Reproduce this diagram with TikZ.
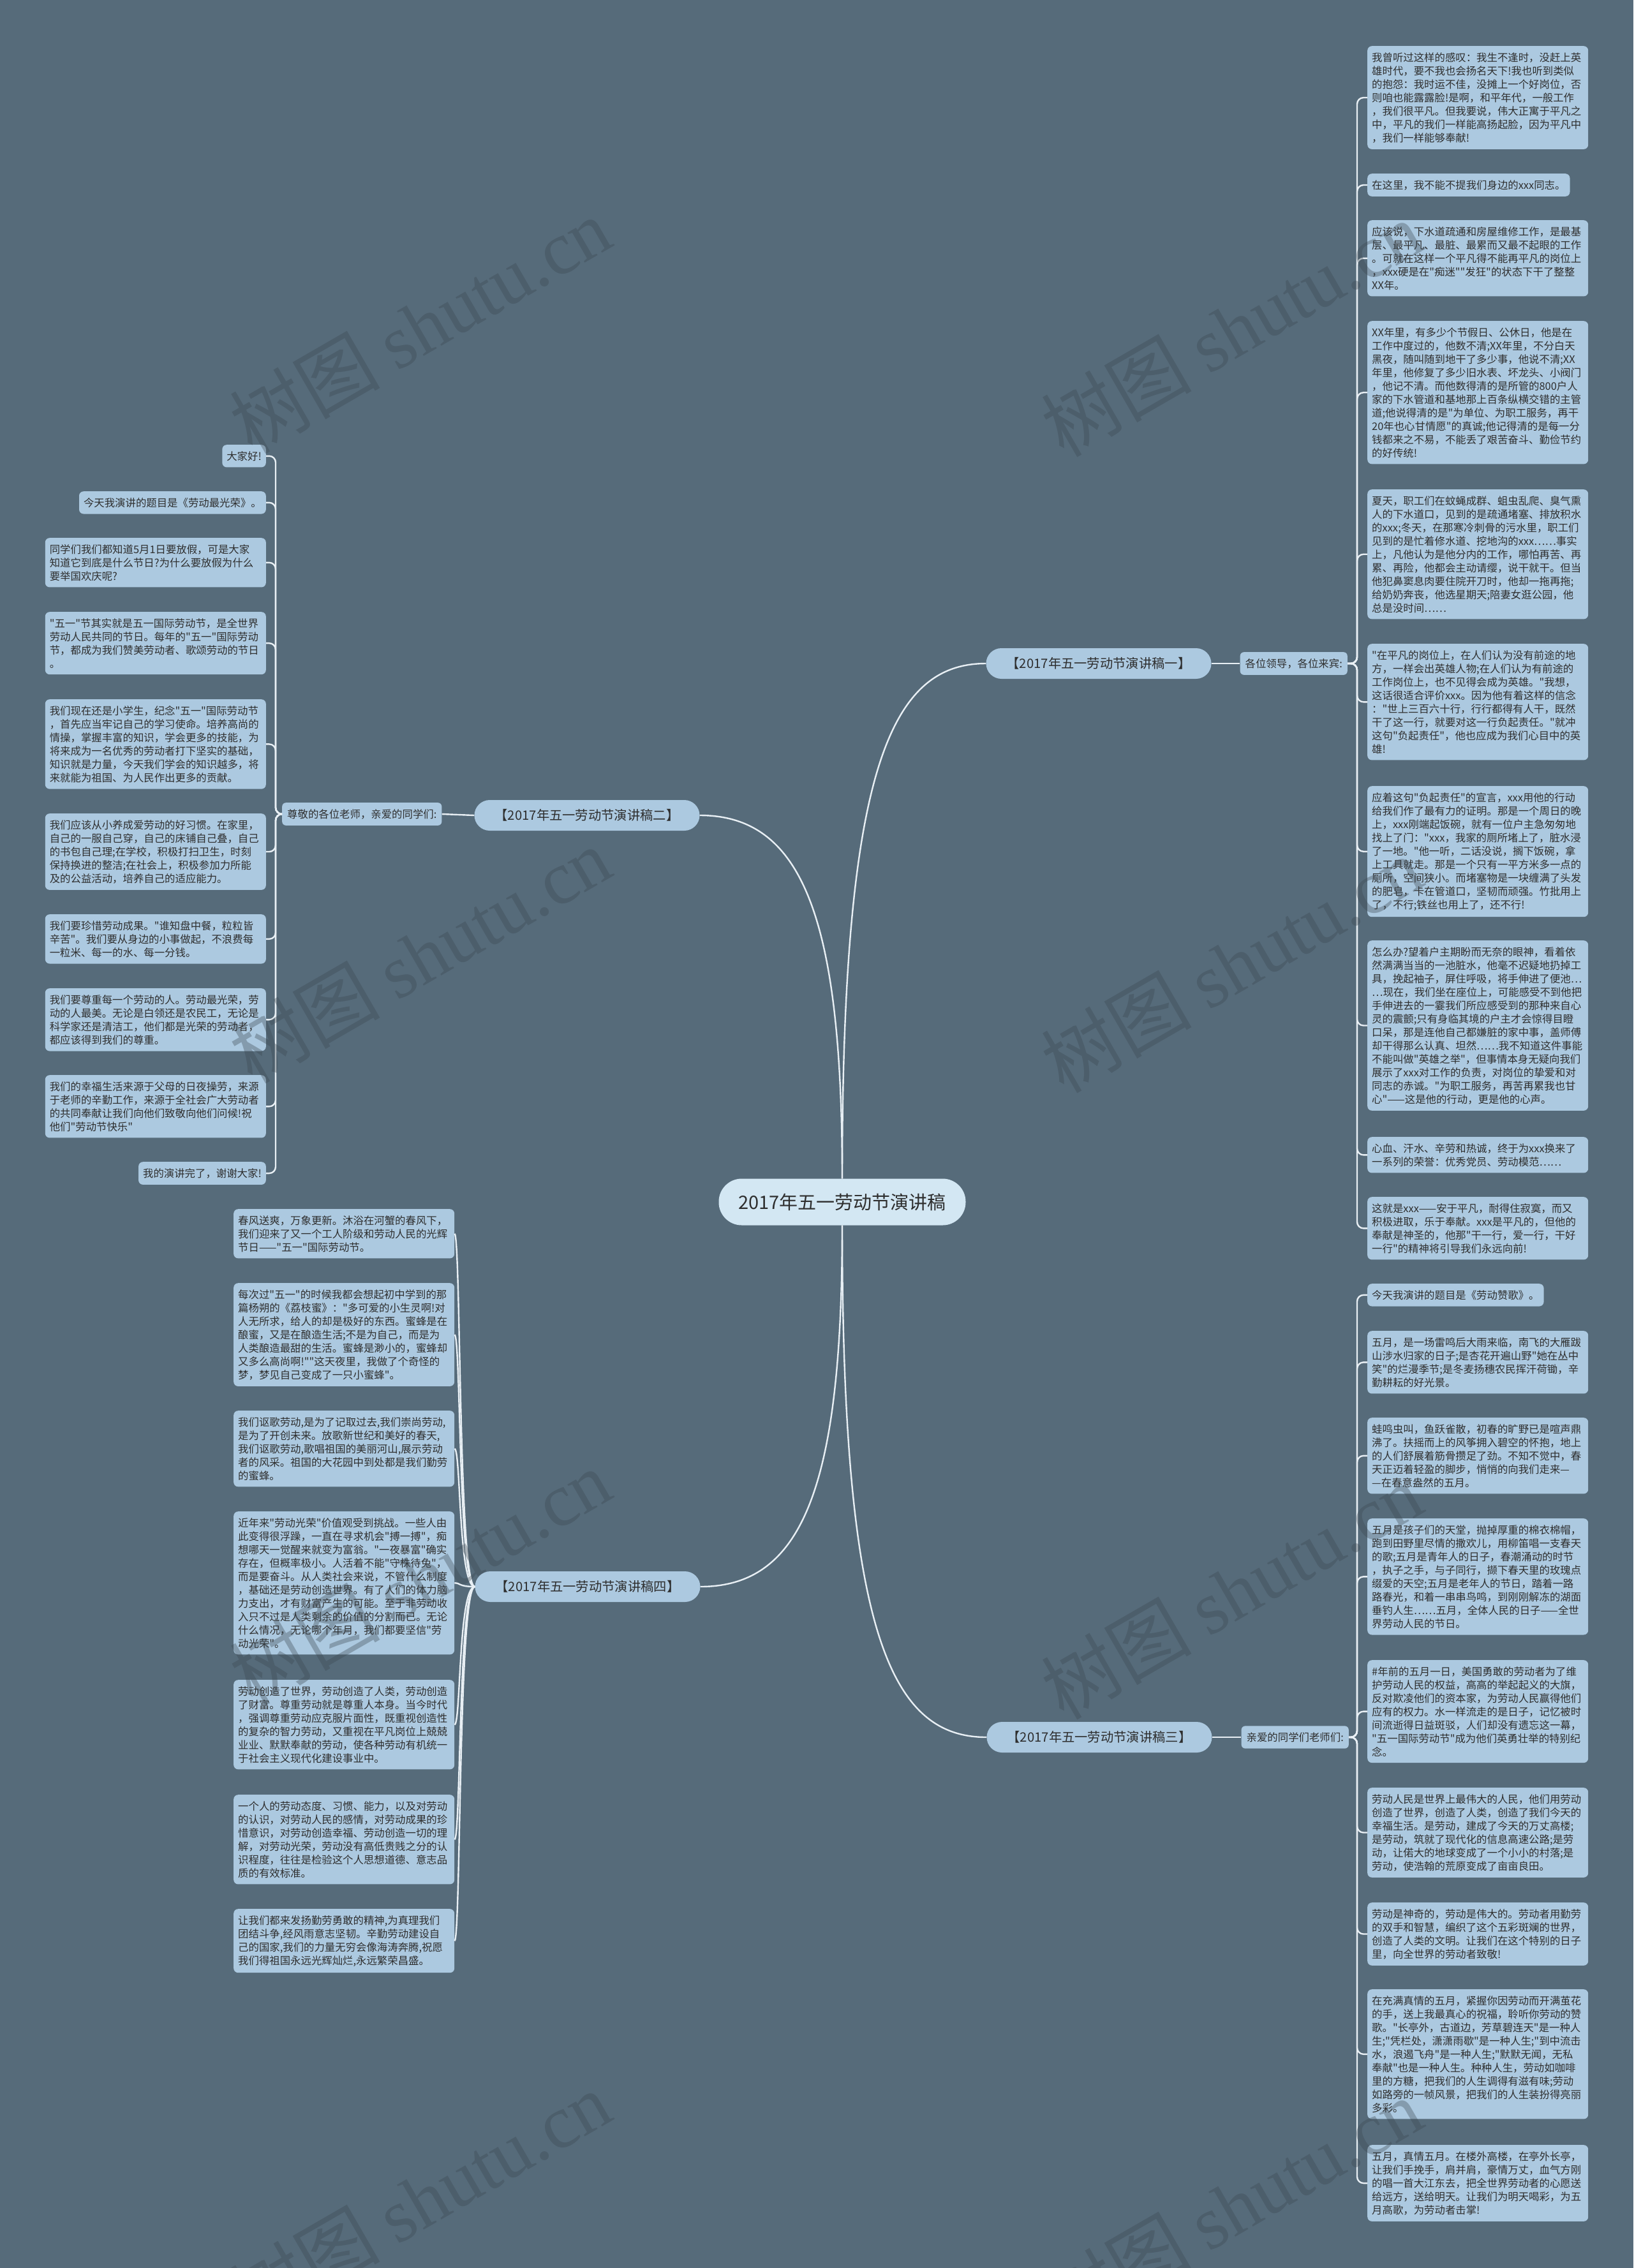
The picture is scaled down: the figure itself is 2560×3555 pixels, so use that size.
\documentclass[tikz,border=0pt]{standalone}
\usepackage{fontspec}
\setmainfont{Noto Sans CJK SC}[Ligatures=TeXOff]
\newfontfamily\wmlatin{Liberation Serif}
\definecolor{bgc}{HTML}{566B7A}
\definecolor{leafc}{HTML}{ACC9E0}
\definecolor{rootc}{HTML}{D3E7F3}
\definecolor{linec}{HTML}{E8EFF4}
\definecolor{txtc}{HTML}{2E2E2E}
\definecolor{wmc}{HTML}{3A4650}
\newcommand\leaffont{\fontsize{16.4}{21}\selectfont}
\begin{document}
\begin{tikzpicture}[x=1pt,y=-1pt,
  leaf/.style={fill=leafc, rounded corners=7pt, inner xsep=7pt, inner ysep=10pt, font=\leaffont, text=txtc, align=left},
  wide/.style={text width=332pt},
  branch/.style={fill=leafc, rounded corners=24pt, minimum width=353pt, minimum height=48pt, inner sep=0pt, font=\fontsize{20.3}{24}\selectfont, text=txtc},
  root/.style={fill=rootc, rounded corners=36pt, minimum width=387pt, minimum height=73pt, inner sep=0pt, font=\fontsize{29}{34}\selectfont, text=txtc},
  lvltwo/.style={fill=leafc, rounded corners=6pt, inner xsep=8pt, inner ysep=10pt, font=\leaffont, text=txtc},
  conn/.style={draw=linec, line width=2.4pt, rounded corners=10pt},
  wm/.style={text=wmc, opacity=0.35, rotate=30, font=\fontsize{118}{118}\selectfont}
]
\fill[bgc] (0,0) rectangle (2560,3555);
\useasboundingbox (0,0) rectangle (2560,3555);

% root and branches
\node[root] (root) at (1320,1884) {2017年五一劳动节演讲稿};
\node[branch] (b1) at (1722,1040) {【2017年五一劳动节演讲稿一】};
\node[branch] (b2) at (920,1278) {【2017年五一劳动节演讲稿二】};
\node[branch] (b3) at (1723,2723) {【2017年五一劳动节演讲稿三】};
\node[branch] (b4) at (921,2487) {【2017年五一劳动节演讲稿四】};

\node[lvltwo, anchor=east] (l1) at (2112,1040) {各位领导，各位来宾:};
\node[lvltwo, anchor=east] (l3) at (2114,2723) {亲爱的同学们老师们:};
\node[lvltwo, anchor=west] (l2) at (442,1276) {尊敬的各位老师，亲爱的同学们:};

% right column, branch one
\node[leaf,wide,anchor=north west] (r1) at (2143,72) {我曾听过这样的感叹：我生不逢时，没赶上英\\雄时代，要不我也会扬名天下!我也听到类似\\的抱怨：我时运不佳，没摊上一个好岗位，否\\则咱也能露露脸!是啊，和平年代，一般工作\\，我们很平凡。但我要说，伟大正寓于平凡之\\中，平凡的我们一样能高扬起脸，因为平凡中\\，我们一样能够奉献!};
\node[leaf,anchor=north west] (r2) at (2143,272) {在这里，我不能不提我们身边的xxx同志。};
\node[leaf,wide,anchor=north west] (r3) at (2143,345) {应该说，下水道疏通和房屋维修工作，是最基\\层、最平凡、最脏、最累而又最不起眼的工作\\。可就在这样一个平凡得不能再平凡的岗位上\\，xxx硬是在"痴迷""发狂"的状态下干了整整\\XX年。};
\node[leaf,wide,anchor=north west] (r4) at (2143,503) {XX年里，有多少个节假日、公休日，他是在\\工作中度过的，他数不清;XX年里，不分白天\\黑夜，随叫随到地干了多少事，他说不清;XX\\年里，他修复了多少旧水表、坏龙头、小阀门\\，他记不清。而他数得清的是所管的800户人\\家的下水管道和基地那上百条纵横交错的主管\\道;他说得清的是"为单位、为职工服务，再干\\20年也心甘情愿"的真诚;他记得清的是每一分\\钱都来之不易，不能丢了艰苦奋斗、勤俭节约\\的好传统!};
\node[leaf,wide,anchor=north west] (r5) at (2143,767) {夏天，职工们在蚊蝇成群、蛆虫乱爬、臭气熏\\人的下水道口，见到的是疏通堵塞、排放积水\\的xxx;冬天，在那寒冷刺骨的污水里，职工们\\见到的是忙着修水道、挖地沟的xxx……事实\\上，凡他认为是他分内的工作，哪怕再苦、再\\累、再险，他都会主动请缨，说干就干。但当\\他犯鼻窦息肉要住院开刀时，他却一拖再拖;\\给奶奶奔丧，他选星期天;陪妻女逛公园，他\\总是没时间……};
\node[leaf,wide,anchor=north west] (r6) at (2143,1009) {"在平凡的岗位上，在人们认为没有前途的地\\方，一样会出英雄人物;在人们认为有前途的\\工作岗位上，也不见得会成为英雄。"我想，\\这话很适合评价xxx。因为他有着这样的信念\\："世上三百六十行，行行都得有人干，既然\\干了这一行，就要对这一行负起责任。"就冲\\这句"负起责任"，他也应成为我们心目中的英\\雄!};
\node[leaf,wide,anchor=north west] (r7) at (2143,1232) {应着这句"负起责任"的宣言，xxx用他的行动\\给我们作了最有力的证明。那是一个周日的晚\\上，xxx刚端起饭碗，就有一位户主急匆匆地\\找上了门："xxx，我家的厕所堵上了，脏水浸\\了一地。"他一听，二话没说，搁下饭碗，拿\\上工具就走。那是一个只有一平方米多一点的\\厕所，空间狭小。而堵塞物是一块缠满了头发\\的肥皂，卡在管道口，坚韧而顽强。竹批用上\\了，不行;铁丝也用上了，还不行!};
\node[leaf,wide,anchor=north west] (r8) at (2143,1474) {怎么办?望着户主期盼而无奈的眼神，看着依\\然满满当当的一池脏水，他毫不迟疑地扔掉工\\具，挽起袖子，屏住呼吸，将手伸进了便池…\\…现在，我们坐在座位上，可能感受不到他把\\手伸进去的一霎我们所应感受到的那种来自心\\灵的震颤;只有身临其境的户主才会惊得目瞪\\口呆，那是连他自己都嫌脏的家中事，盖师傅\\却干得那么认真、坦然……我不知道这件事能\\不能叫做"英雄之举"，但事情本身无疑向我们\\展示了xxx对工作的负责，对岗位的挚爱和对\\同志的赤诚。"为职工服务，再苦再累我也甘\\心"——这是他的行动，更是他的心声。};
\node[leaf,wide,anchor=north west] (r9) at (2143,1782) {心血、汗水、辛劳和热诚，终于为xxx换来了\\一系列的荣誉：优秀党员、劳动模范……};
\node[leaf,wide,anchor=north west] (r10) at (2143,1876) {这就是xxx——安于平凡，耐得住寂寞，而又\\积极进取，乐于奉献。xxx是平凡的，但他的\\奉献是神圣的，他那"干一行，爱一行，干好\\一行"的精神将引导我们永远向前!};

% right column, branch three
\node[leaf,anchor=north west] (r11) at (2143,2012) {今天我演讲的题目是《劳动赞歌》。};
\node[leaf,wide,anchor=north west] (r12) at (2143,2086) {五月，是一场雷鸣后大雨来临，南飞的大雁跋\\山涉水归家的日子;是杏花开遍山野"她在丛中\\笑"的烂漫季节;是冬麦扬穗农民挥汗荷锄，辛\\勤耕耘的好光景。};
\node[leaf,wide,anchor=north west] (r13) at (2143,2222) {蛙鸣虫叫，鱼跃雀散，初春的旷野已是喧声鼎\\沸了。扶摇而上的风筝拥入碧空的怀抱，地上\\的人们舒展着筋骨攒足了劲。不知不觉中，春\\天正迈着轻盈的脚步，悄悄的向我们走来—\\—在春意盎然的五月。};
\node[leaf,wide,anchor=north west] (r14) at (2143,2380) {五月是孩子们的天堂，抛掉厚重的棉衣棉帽，\\跑到田野里尽情的撒欢儿，用柳笛唱一支春天\\的歌;五月是青年人的日子，春潮涌动的时节\\，执子之手，与子同行，撷下春天里的玫瑰点\\缀爱的天空;五月是老年人的节日，踏着一路\\路春光，和着一串串鸟鸣，到刚刚解冻的湖面\\垂钓人生……五月，全体人民的日子——全世\\界劳动人民的节日。};
\node[leaf,wide,anchor=north west] (r15) at (2143,2602) {\#年前的五月一日，美国勇敢的劳动者为了维\\护劳动人民的权益，高高的举起起义的大旗，\\反对欺凌他们的资本家，为劳动人民赢得他们\\应有的权力。水一样流走的是日子，记忆被时\\间流逝得日益斑驳，人们却没有遗忘这一幕，\\"五一国际劳动节"成为他们英勇壮举的特别纪\\念。};
\node[leaf,wide,anchor=north west] (r16) at (2143,2802) {劳动人民是世界上最伟大的人民，他们用劳动\\创造了世界，创造了人类，创造了我们今天的\\幸福生活。是劳动，建成了今天的万丈高楼;\\是劳动，筑就了现代化的信息高速公路;是劳\\动，让偌大的地球变成了一个小小的村落;是\\劳动，使浩翰的荒原变成了亩亩良田。};
\node[leaf,wide,anchor=north west] (r17) at (2143,2982) {劳动是神奇的，劳动是伟大的。劳动者用勤劳\\的双手和智慧，编织了这个五彩斑斓的世界，\\创造了人类的文明。让我们在这个特别的日子\\里，向全世界的劳动者致敬!};
\node[leaf,wide,anchor=north west] (r18) at (2143,3118) {在充满真情的五月，紧握你因劳动而开满茧花\\的手，送上我最真心的祝福，聆听你劳动的赞\\歌。"长亭外，古道边，芳草碧连天"是一种人\\生;"凭栏处，潇潇雨歇"是一种人生;"到中流击\\水，浪遏飞舟"是一种人生;"默默无闻，无私\\奉献"也是一种人生。种种人生，劳动如咖啡\\里的方糖，把我们的人生调得有滋有味;劳动\\如路旁的一帧风景，把我们的人生装扮得亮丽\\多彩。};
\node[leaf,wide,anchor=north west] (r19) at (2143,3362) {五月，真情五月。在楼外高楼，在亭外长亭，\\让我们手挽手，肩并肩，豪情万丈，血气方刚\\的唱一首大江东去，把全世界劳动者的心愿送\\给远方，送给明天。让我们为明天喝彩，为五\\月高歌，为劳动者击掌!};

% top-left column, branch two
\node[leaf,anchor=north east] (t1) at (417,697) {大家好!};
\node[leaf,anchor=north east] (t2) at (417,770) {今天我演讲的题目是《劳动最光荣》。};
\node[leaf,wide,anchor=north east] (t3) at (417,843) {同学们我们都知道5月1日要放假，可是大家\\知道它到底是什么节日?为什么要放假为什么\\要举国欢庆呢?};
\node[leaf,wide,anchor=north east] (t4) at (417,959) {"五一"节其实就是五一国际劳动节，是全世界\\劳动人民共同的节日。每年的"五一"国际劳动\\节，都成为我们赞美劳动者、歌颂劳动的节日\\。};
\node[leaf,wide,anchor=north east] (t5) at (417,1096) {我们现在还是小学生，纪念"五一"国际劳动节\\，首先应当牢记自己的学习使命。培养高尚的\\情操，掌握丰富的知识，学会更多的技能，为\\将来成为一名优秀的劳动者打下坚实的基础，\\知识就是力量，今天我们学会的知识越多，将\\来就能为祖国、为人民作出更多的贡献。};
\node[leaf,wide,anchor=north east] (t6) at (417,1275) {我们应该从小养成爱劳动的好习惯。在家里，\\自己的一服自己穿，自己的床铺自己叠，自己\\的书包自己理;在学校，积极打扫卫生，时刻\\保持换进的整洁;在社会上，积极参加力所能\\及的公益活动，培养自己的适应能力。};
\node[leaf,wide,anchor=north east] (t7) at (417,1433) {我们要珍惜劳动成果。"谁知盘中餐，粒粒皆\\辛苦"。我们要从身边的小事做起，不浪费每\\一粒米、每一的水、每一分钱。};
\node[leaf,wide,anchor=north east] (t8) at (417,1549) {我们要尊重每一个劳动的人。劳动最光荣，劳\\动的人最美。无论是白领还是农民工，无论是\\科学家还是清洁工，他们都是光荣的劳动者，\\都应该得到我们的尊重。};
\node[leaf,wide,anchor=north east] (t9) at (417,1685) {我们的幸福生活来源于父母的日夜操劳，来源\\于老师的辛勤工作，来源于全社会广大劳动者\\的共同奉献让我们向他们致敬向他们问候!祝\\他们"劳动节快乐"};
\node[leaf,anchor=north east] (t10) at (417,1821) {我的演讲完了，谢谢大家!};

% bottom-left column, branch four
\node[leaf,wide,anchor=north west] (f1) at (366,1895) {春风送爽，万象更新。沐浴在河蟹的春风下，\\我们迎来了又一个工人阶级和劳动人民的光辉\\节日——"五一"国际劳动节。};
\node[leaf,wide,anchor=north west] (f2) at (366,2011) {每次过"五一"的时候我都会想起初中学到的那\\篇杨朔的《荔枝蜜》："多可爱的小生灵啊!对\\人无所求，给人的却是极好的东西。蜜蜂是在\\酿蜜，又是在酿造生活;不是为自己，而是为\\人类酿造最甜的生活。蜜蜂是渺小的，蜜蜂却\\又多么高尚啊!""这天夜里，我做了个奇怪的\\梦，梦见自己变成了一只小蜜蜂"。};
\node[leaf,wide,anchor=north west] (f3) at (366,2211) {我们讴歌劳动,是为了记取过去,我们崇尚劳动,\\是为了开创未来。放歌新世纪和美好的春天,\\我们讴歌劳动,歌唱祖国的美丽河山,展示劳动\\者的风采。祖国的大花园中到处都是我们勤劳\\的蜜蜂。};
\node[leaf,wide,anchor=north west] (f4) at (366,2369) {近年来"劳动光荣"价值观受到挑战。一些人由\\此变得很浮躁，一直在寻求机会"搏一搏"，痴\\想哪天一觉醒来就变为富翁。"一夜暴富"确实\\存在，但概率极小。人活着不能"守株待兔"，\\而是要奋斗。从人类社会来说，不管什么制度\\，基础还是劳动创造世界。有了人们的体力脑\\力支出，才有财富产生的可能。至于非劳动收\\入只不过是人类剩余的价值的分割而已。无论\\什么情况，无论哪个年月，我们都要坚信"劳\\动光荣"。};
\node[leaf,wide,anchor=north west] (f5) at (366,2633) {劳动创造了世界，劳动创造了人类，劳动创造\\了财富。尊重劳动就是尊重人本身。当今时代\\，强调尊重劳动应克服片面性，既重视创造性\\的复杂的智力劳动，又重视在平凡岗位上兢兢\\业业、默默奉献的劳动，使各种劳动有机统一\\于社会主义现代化建设事业中。};
\node[leaf,wide,anchor=north west] (f6) at (366,2813) {一个人的劳动态度、习惯、能力，以及对劳动\\的认识，对劳动人民的感情，对劳动成果的珍\\惜意识，对劳动创造幸福、劳动创造一切的理\\解，对劳动光荣，劳动没有高低贵贱之分的认\\识程度，往往是检验这个人思想道德、意志品\\质的有效标准。};
\node[leaf,wide,anchor=north west] (f7) at (366,2992) {让我们都来发扬勤劳勇敢的精神,为真理我们\\团结斗争,经风雨意志坚韧。辛勤劳动建设自\\己的国家,我们的力量无穷会像海涛奔腾,祝愿\\我们得祖国永远光辉灿烂,永远繁荣昌盛。};

% connectors: root to branches
\draw[conn] (root.north) .. controls +(0,-640) and +(-150,0) .. (b1.west);
\draw[conn] (root.north) .. controls +(0,-410) and +(160,0) .. (b2.east);
\draw[conn] (root.south) .. controls +(0,640) and +(-150,0) .. (b3.west);
\draw[conn] (root.south) .. controls +(0,410) and +(160,0) .. (b4.east);

% branch to second level
\draw[conn] (b1.east) -- (l1.west);
\draw[conn] (b3.east) -- (l3.west);
\draw[conn] (b2.west) -- (l2.east);

% leaves of branch one
\foreach \n in {r1,r2,r3,r4,r5,r6,r7,r8,r9,r10}
  \draw[conn] (l1.east) -- ++(15,0) |- (\n.west);
% leaves of branch three
\foreach \n in {r11,r12,r13,r14,r15,r16,r17,r18,r19}
  \draw[conn] (l3.east) -- ++(13,0) |- (\n.west);
% leaves of branch two
\foreach \n in {t1,t2,t3,t4,t5,t6,t7,t8,t9,t10}
  \draw[conn] (l2.west) -- ++(-10,0) |- (\n.east);
% leaves of branch four
\foreach \n in {f1,f2,f3,f4,f5,f6,f7}
  \draw[conn] (b4.west) .. controls +(-26,0) and +(10,0) .. (\n.east);

% watermarks
\node[wm] (w1) at (658,510) {树图 {\wmlatin shutu.cn}};
\node[wm] (w2) at (1930,515) {树图 {\wmlatin shutu.cn}};
\node[wm] (w3) at (658,1497) {树图 {\wmlatin shutu.cn}};
\node[wm] (w4) at (1930,1512) {树图 {\wmlatin shutu.cn}};
\node[wm] (w5) at (658,2472) {树图 {\wmlatin shutu.cn}};
\node[wm] (w6) at (1930,2494) {树图 {\wmlatin shutu.cn}};
\node[wm] (w7) at (658,3447) {树图 {\wmlatin shutu.cn}};
\node[wm] (w8) at (1930,3458) {树图 {\wmlatin shutu.cn}};
\end{tikzpicture}
\end{document}
